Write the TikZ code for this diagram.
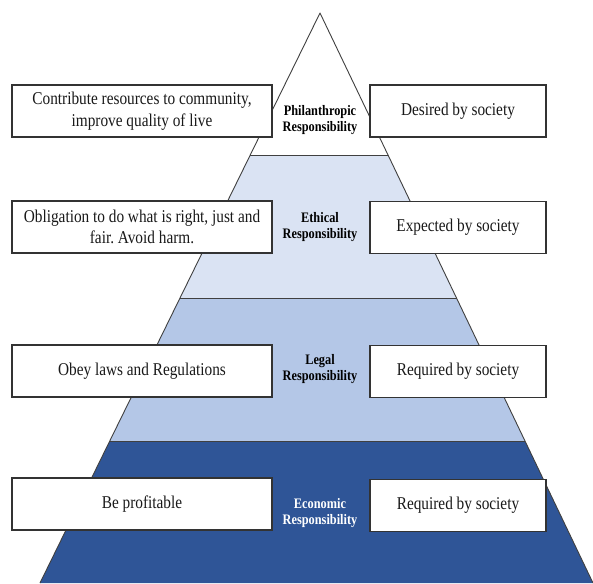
\documentclass[tikz,border=0pt]{standalone}
\usepackage{fontspec}
\setmainfont{Liberation Serif}[FakeStretch=0.85]
\definecolor{tierB}{HTML}{DAE3F3}
\definecolor{tierC}{HTML}{B4C7E7}
\definecolor{tierD}{HTML}{2F5597}
\begin{document}
\frenchspacing
\begin{tikzpicture}[x=1pt,y=-1pt,
  edge/.style={draw=black!75, line width=0.9pt, line join=round},
  descbox/.style={draw=black!80, line width=1.2pt, fill=white, rectangle, inner sep=0pt,
    align=center, font=\fontsize{18}{21.5}\selectfont, text=black!90, minimum height=52pt},
  leftbox/.style={descbox, minimum width=260pt},
  rightbox/.style={descbox, minimum width=176pt},
  lbl/.style={align=center, font=\fontsize{14.5}{15.5}\selectfont\bfseries, inner sep=0pt, text=black}]
\useasboundingbox (0,0) rectangle (593,583);
\fill[white] (0,0) rectangle (593,583);
% pyramid corners and tier boundaries
\coordinate (apex) at (320,13);
\coordinate (bl) at (40,583);
\coordinate (br) at (593,583);
\coordinate (l1) at (250.25,155);  \coordinate (r1) at (388.0,155);
\coordinate (l2) at (179.75,298.5); \coordinate (r2) at (456.7,298.5);
\coordinate (l3) at (109.8,441);   \coordinate (r3) at (525.0,441);
% tier fills
\fill[white] (apex) -- (r1) -- (l1) -- cycle;
\fill[tierB] (l1) -- (r1) -- (r2) -- (l2) -- cycle;
\fill[tierC] (l2) -- (r2) -- (r3) -- (l3) -- cycle;
\fill[tierD] (l3) -- (r3) -- (br) -- (bl) -- cycle;
% outlines
\draw[edge] (bl) -- (apex) -- (br);
\draw[edge] (l1) -- (r1);
\draw[edge] (l2) -- (r2);
\draw[edge] (l3) -- (r3);
% labels
\node[lbl] (t1) at (320,120) {Philanthropic\\Responsibility};
\node[lbl] (t2) at (320,227) {Ethical\\Responsibility};
\node[lbl] (t3) at (320,369) {Legal\\Responsibility};
\node[lbl, text=white] (t4) at (320,513) {Economic\\Responsibility};
% boxes
\node[leftbox] (a1) at (142,111) {Contribute resources to community,\\improve quality of live};
\node[rightbox] (b1) at (458,111) {Desired by society};
\node[leftbox] (a2) at (142,227) {Obligation to do what is right, just and\\fair. Avoid harm.};
\node[rightbox] (b2) at (458,227.5) {Expected by society};
\node[leftbox] (a3) at (142,371) {Obey laws and Regulations};
\node[rightbox] (b3) at (458,371.5) {Required by society};
\node[leftbox] (a4) at (142,504) {Be profitable};
\node[rightbox] (b4) at (458,505.5) {Required by society};
\end{tikzpicture}
\end{document}
